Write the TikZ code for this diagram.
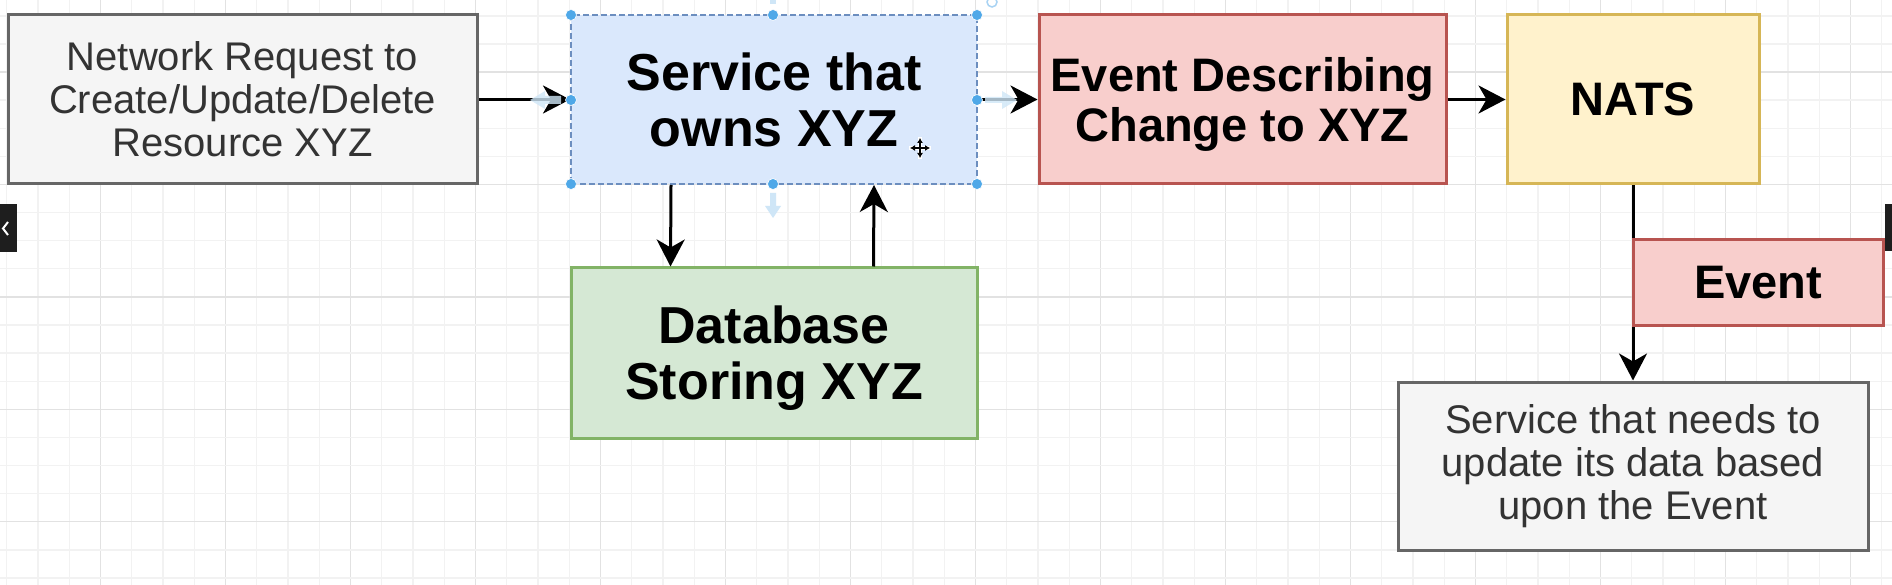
\documentclass[tikz,border=0pt]{standalone}
\usepackage{fontspec}
\setmainfont{Liberation Sans}
\usetikzlibrary{arrows.meta}
\definecolor{gfill}{HTML}{F5F5F5}
\definecolor{gline}{HTML}{666666}
\definecolor{gtext}{HTML}{333333}
\definecolor{bfill}{HTML}{DAE8FC}
\definecolor{bline}{HTML}{6C8EBF}
\definecolor{rfill}{HTML}{F8CECC}
\definecolor{rline}{HTML}{B85450}
\definecolor{yfill}{HTML}{FFF2CC}
\definecolor{yline}{HTML}{D6B656}
\definecolor{grfill}{HTML}{D5E8D4}
\definecolor{grline}{HTML}{82B366}
\definecolor{gridmin}{HTML}{F2F2F2}
\definecolor{gridmaj}{HTML}{E2E2E2}
\definecolor{handle}{HTML}{4FA8E8}
\definecolor{hover}{HTML}{CFE6F7}
\definecolor{tabcol}{HTML}{1E1E1E}
\tikzset{
  box/.style={draw, line width=3pt, inner sep=0pt, align=center},
  greybox/.style={box, fill=gfill, draw=gline, text=gtext, font=\fontsize{40}{43}\selectfont},
  bigbold/.style={font=\bfseries\fontsize{52}{56}\selectfont},
  midbold/.style={font=\bfseries\fontsize{47}{50}\selectfont},
  arr/.style={line width=3pt, -{Stealth[length=27pt,width=28pt,inset=8pt]}},
  gmin/.style={draw=gridmin, line width=1.4pt},
  gmaj/.style={draw=gridmaj, line width=1.4pt},
  hdl/.style={fill=handle, draw=white, line width=0.6pt},
}
\begin{document}
\begin{tikzpicture}[x=1pt,y=-1pt]
\useasboundingbox (0,0) rectangle (1892,585);
\fill[white] (0,0) rectangle (1892,585);
% grid
\foreach \k in {0,...,60}{
  \pgfmathtruncatemacro\m{mod(\k,4)}
  \ifnum\m=3 \draw[gmaj] ({6.7+31.25*\k},0) -- ({6.7+31.25*\k},585);
  \else \draw[gmin] ({6.7+31.25*\k},0) -- ({6.7+31.25*\k},585); \fi
}
\foreach \k in {0,...,20}{
  \pgfmathtruncatemacro\m{mod(\k,4)}
  \ifnum\m=2 \draw[gmaj] (0,{15.9+28.1*\k}) -- (1892,{15.9+28.1*\k});
  \else \draw[gmin] (0,{15.9+28.1*\k}) -- (1892,{15.9+28.1*\k}); \fi
}
% nodes
\node[greybox, minimum width=469pt, minimum height=169pt] (req) at (242.5,99.5)
  {Network Request to\\Create/Update/Delete\\Resource XYZ};
\node[box, fill=bfill, draw=bline, line width=2pt, dash pattern=on 6pt off 3pt, bigbold,
  minimum width=406pt, minimum height=169pt, text depth=0pt] (svc) at (774,99.5)
  {Service that\\owns XYZ};
\node[box, fill=rfill, draw=rline, midbold, minimum width=407pt, minimum height=169pt, text depth=0pt] (evd) at (1242.5,99.5)
  {Event Describing\\Change to XYZ};
\node[box, fill=yfill, draw=yline, midbold, minimum width=252pt, minimum height=169pt] (nats) at (1633,99.5)
  {NATS};
\node[box, fill=grfill, draw=grline, bigbold, minimum width=406pt, minimum height=170pt, text depth=0pt] (db) at (774,353)
  {Database\\Storing XYZ};
\node[greybox, minimum width=470pt, minimum height=168pt] (sub) at (1633,466)
  {Service that needs to\\update its data based\\upon the Event};
% connectors
\draw[arr] (nats.south) -- (sub.north);
\node[box, fill=rfill, draw=rline, midbold, minimum width=250pt, minimum height=85pt] (evt) at (1758,282.5)
  {Event};
\draw[arr] (req.east) -- (svc.west);
\draw[arr] (svc.east) -- (evd.west);
\draw[arr] (evd.east) -- (nats.west);
\draw[arr] ([xshift=101pt]svc.south west) -- ([xshift=101pt]db.north west);
\draw[arr] ([xshift=304pt]db.north west) -- ([xshift=304pt]svc.south west);
% editor overlay: hover arrows
\fill[hover, opacity=0.8] (545,96) -- (561,96) -- (561,104) -- (545,104) -- (545,109) -- (530,100) -- (545,91) -- cycle;
\fill[hover, opacity=0.8] (985,97) -- (1002,97) -- (1002,91) -- (1017,100) -- (1002,109) -- (1002,103) -- (985,103) -- cycle;
\fill[hover] (770,193) -- (776,193) -- (776,206) -- (781,206) -- (773,218) -- (765,206) -- (770,206) -- cycle;
\fill[hover] (770,0) rectangle (776,4);
% selection handles
\foreach \p in {(571,15),(773,15),(977,15),(571,100),(977,100),(571,184),(773,184),(977,184)}
  \path[hdl] \p circle (5.5pt);
\draw[hover!70!handle, line width=1.5pt] (992,2) circle (5pt);
% move cursor
\draw[white, line width=4pt] (909,148) -- (931,148) (920,137) -- (920,159);
\draw[black, line width=1.4pt, {Latex[length=5pt,width=6pt]}-{Latex[length=5pt,width=6pt]}] (910,148) -- (930,148);
\draw[black, line width=1.4pt, {Latex[length=5pt,width=6pt]}-{Latex[length=5pt,width=6pt]}] (920,138) -- (920,158);
% side tabs
\fill[tabcol] (0,204) rectangle (17,252);
\draw[white, line width=2pt] (8,222) -- (3,228.5) -- (8,235);
\fill[tabcol] (1885,204) rectangle (1892,251);
\end{tikzpicture}
\end{document}
